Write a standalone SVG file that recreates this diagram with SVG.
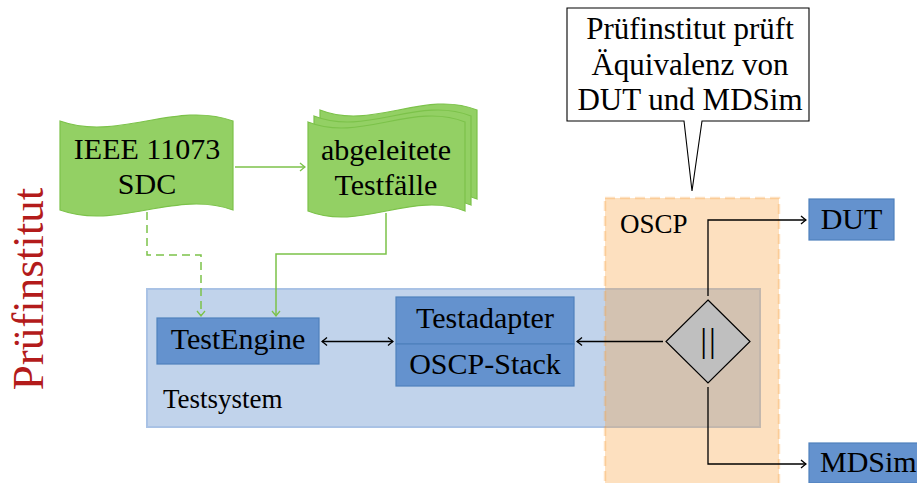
<svg xmlns="http://www.w3.org/2000/svg" width="917" height="483" viewBox="0 0 917 483" font-family="Liberation Serif, Times New Roman, serif">
<style>
.m{font-size:30px}
.c{font-size:31px}
.s{font-size:27px}
.tape{fill:#93d064;stroke:#7cc24a;stroke-width:1.2}
.box{fill:#6492ce;stroke:#4f81bd;stroke-width:1.2}
.g{fill:none;stroke:#7cc24a;stroke-width:1.5}
.k{fill:none;stroke:#000;stroke-width:1.3}
</style>
<defs>
<marker id="ag" viewBox="-6 -5 7 10" refX="0" refY="0" markerWidth="7" markerHeight="10" markerUnits="userSpaceOnUse" orient="auto-start-reverse">
<path d="M-5,-4 Q-1.5,-1 0,0 Q-1.5,1 -5,4" fill="none" stroke="#7cc24a" stroke-width="1.3"/>
</marker>
<marker id="ak" viewBox="-6 -5 7 10" refX="0" refY="0" markerWidth="7" markerHeight="10" markerUnits="userSpaceOnUse" orient="auto-start-reverse">
<path d="M-5,-4 Q-1.5,-1 0,0 Q-1.5,1 -5,4" fill="none" stroke="#000" stroke-width="1.3"/>
</marker>
<path id="tp" d="M0,0 C52.3,20.8 104.7,-20.8 157,0 L157,89 C104.7,68.2 52.3,109.8 0,89 Z"/>
</defs>

<g id="pruefinstitut">
<text transform="translate(43,289) rotate(-90)" text-anchor="middle" font-size="45" fill="#b31b1b">Prüfinstitut</text>
</g>

<g id="testsystem">
<rect x="147" y="289" width="613" height="138" fill="#c1d3eb" stroke="#a9c2e5" stroke-width="2"/>
<text class="s" x="163" y="408">Testsystem</text>
</g>

<g id="oscp">
<rect x="605" y="198" width="174" height="290" fill="#f9a03c" fill-opacity="0.33" stroke="#f9a03c" stroke-opacity="0.3" stroke-width="2.5" stroke-dasharray="10,5"/>
<text class="s" x="620" y="233">OSCP</text>
</g>

<g id="ieee">
<path class="tape" d="M60,121 C117.7,141.8 175.3,100.2 233,121 L233,210 C175.3,189.2 117.7,230.8 60,210 Z"/>
<text class="m" x="147" y="159" text-anchor="middle">IEEE 11073</text>
<text class="m" x="147" y="194" text-anchor="middle">SDC</text>
</g>

<g id="testfaelle">
<use href="#tp" class="tape" x="320" y="110"/>
<use href="#tp" class="tape" x="314" y="116"/>
<use href="#tp" class="tape" x="308" y="122"/>
<text class="m" x="386" y="160" text-anchor="middle">abgeleitete</text>
<text class="m" x="386" y="195" text-anchor="middle">Testfälle</text>
</g>

<g id="testengine">
<rect class="box" x="157" y="318" width="162" height="46"/>
<text class="m" x="238" y="349" text-anchor="middle">TestEngine</text>
</g>

<g id="testadapter">
<rect class="box" x="396" y="297" width="178" height="47"/>
<text class="m" x="485" y="328" text-anchor="middle">Testadapter</text>
</g>

<g id="oscpstack">
<rect class="box" x="396" y="344" width="178" height="42"/>
<text class="m" x="485" y="374" text-anchor="middle">OSCP-Stack</text>
</g>

<g id="switch">
<path d="M708,300 L750,341.5 L708,383 L666,341.5 Z" fill="#bfbfbf" stroke="#000" stroke-width="1.2"/>
<text x="709" y="352" text-anchor="middle" font-size="34" letter-spacing="2">||</text>
</g>

<g id="dut">
<rect class="box" x="809" y="199" width="85" height="41"/>
<text class="m" x="851.5" y="229" text-anchor="middle">DUT</text>
</g>

<g id="mdsim">
<rect class="box" x="809" y="443" width="112" height="40"/>
<text class="m" x="820" y="472">MDSim</text>
</g>

<g id="callout">
<path d="M567,8 H809 V121 H702 L692,191 L684,121 H567 Z" fill="#fff" stroke="#000" stroke-width="1.1"/>
<text class="c" x="690" y="39" text-anchor="middle">Prüfinstitut prüft</text>
<text class="c" x="690" y="75" text-anchor="middle">Äquivalenz von</text>
<text class="c" x="690" y="110" text-anchor="middle">DUT und MDSim</text>
</g>

<g id="connectors">
<path class="g" d="M235,167 H305" marker-end="url(#ag)"/>
<path class="g" d="M147,212 V255 H201 V316" stroke-dasharray="8,5" marker-end="url(#ag)"/>
<path class="g" d="M386,213 V254 H276 V316" marker-end="url(#ag)"/>
<path class="k" d="M322,341.5 H393" marker-start="url(#ak)" marker-end="url(#ak)"/>
<path class="k" d="M663,341.5 H577" marker-end="url(#ak)"/>
<path class="k" d="M708,296 V220 H806" marker-end="url(#ak)"/>
<path class="k" d="M708,387 V464 H806" marker-end="url(#ak)"/>
</g>
</svg>
